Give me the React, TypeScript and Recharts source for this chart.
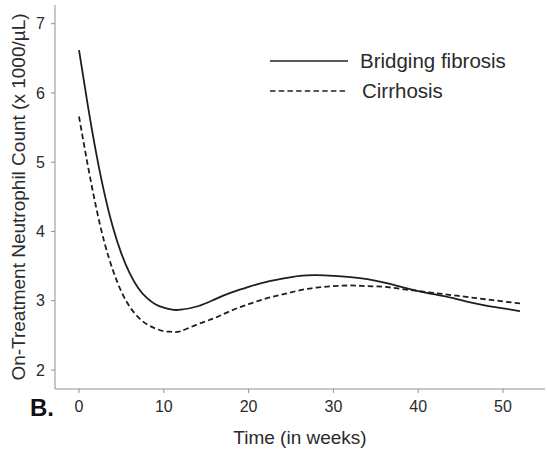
import React from "react";
import { LineChart, Line, XAxis, YAxis, Legend, Label } from "recharts";

const weeks = [0, 1, 2, 3, 4, 5, 6, 7, 8, 9, 10, 11, 12, 14, 16, 18, 20, 22, 24, 26, 28, 30, 32, 34, 36, 38, 40, 42, 44, 46, 48, 50, 52];
const bridgingFibrosis = [6.62, 5.85, 5.15, 4.55, 4.06, 3.68, 3.39, 3.18, 3.04, 2.95, 2.9, 2.87, 2.87, 2.92, 3.02, 3.12, 3.2, 3.27, 3.32, 3.36, 3.37, 3.36, 3.34, 3.31, 3.26, 3.2, 3.14, 3.09, 3.04, 2.98, 2.93, 2.89, 2.85];
const cirrhosis = [5.66, 4.98, 4.36, 3.84, 3.44, 3.13, 2.91, 2.76, 2.66, 2.6, 2.56, 2.55, 2.56, 2.66, 2.75, 2.86, 2.95, 3.03, 3.09, 3.15, 3.19, 3.21, 3.22, 3.21, 3.2, 3.17, 3.14, 3.11, 3.08, 3.05, 3.02, 2.99, 2.96];
const xTicks = [0, 10, 20, 30, 40, 50];
const yTicks = [2, 3, 4, 5, 6, 7];
const seriesNames = ["Bridging fibrosis", "Cirrhosis"];

const data = weeks.map((w, i) => ({ week: w, bridging: bridgingFibrosis[i], cirrhosis: cirrhosis[i] }));

const FONT = "'Liberation Sans', Arial, sans-serif";
const TEXT = "#2b2b2b";
const AXIS = "#8f8f8f";

const LegendContent = (props: any) => {
  const payload = props.payload || [];
  return (
    <svg width={547} height={120} style={{ display: "block" }}>
      {payload.map((p: any, i: number) => {
        const y = 61 + i * 30;
        return (
          <g key={i}>
            <line x1={270} x2={348} y1={y} y2={y} stroke="#222" strokeWidth={1.5}
              strokeDasharray={p.payload && p.payload.strokeDasharray ? "5.5 3.2" : undefined} />
            <text x={i === 0 ? 360 : 362} y={y + 7} fontSize={20.5} fill={TEXT} fontFamily={FONT}>{p.value}</text>
          </g>
        );
      })}
    </svg>
  );
};

const YLabel = (props: any) => {
  const vb = props.viewBox || { x: 0, y: 5, width: 55, height: 384 };
  const cx = 25;
  const cy = vb.y + vb.height / 2;
  return (
    <text x={cx} y={cy} transform={`rotate(-90, ${cx}, ${cy})`} textAnchor="middle" fontSize={19} fill={TEXT} fontFamily={FONT}>
      On-Treatment Neutrophil Count (x 1000/µL)
    </text>
  );
};

export default function App() {
  return (
    <div style={{ position: "absolute", left: 0, top: 0, width: 547, height: 455, background: "#fff" }}>
      <LineChart width={547} height={455} data={data} margin={{ top: 5, right: 2, left: 0, bottom: 0 }}>
        <XAxis dataKey="week" type="number" domain={[-2.83, 54.95]} ticks={xTicks} allowDataOverflow
          height={66} stroke={AXIS} tickSize={4} tickMargin={8}
          tick={{ fill: TEXT, fontSize: 16, fontFamily: FONT }} tickLine={{ stroke: AXIS }}>
          <Label value="Time (in weeks)" position="insideBottom" offset={11} fontSize={19} fill={TEXT} fontFamily={FONT} />
        </XAxis>
        <YAxis type="number" domain={[1.725, 7.27]} ticks={yTicks} allowDataOverflow width={55}
          stroke={AXIS} tickSize={4} tickMargin={6}
          tick={{ fill: TEXT, fontSize: 16, fontFamily: FONT }} tickLine={{ stroke: AXIS }}>
          <Label content={<YLabel />} />
        </YAxis>
        <Legend layout="vertical" align="center" verticalAlign="middle" content={<LegendContent />}
          wrapperStyle={{ position: "absolute", left: 0, top: 0, width: 547, height: 120 }} />
        <Line name={seriesNames[0]} dataKey="bridging" type="natural" stroke="#1e1e1e" strokeWidth={1.8} dot={false} isAnimationActive={false} />
        <Line name={seriesNames[1]} dataKey="cirrhosis" type="natural" stroke="#1e1e1e" strokeWidth={1.8} strokeDasharray="5.5 3.2" dot={false} isAnimationActive={false} />
      </LineChart>
      <svg width={80} height={40} style={{ position: "absolute", left: 0, top: 390 }}>
        <text x={30} y={26} fontSize={24} fontWeight="bold" fill="#111" fontFamily={FONT}>B.</text>
      </svg>
    </div>
  );
}
